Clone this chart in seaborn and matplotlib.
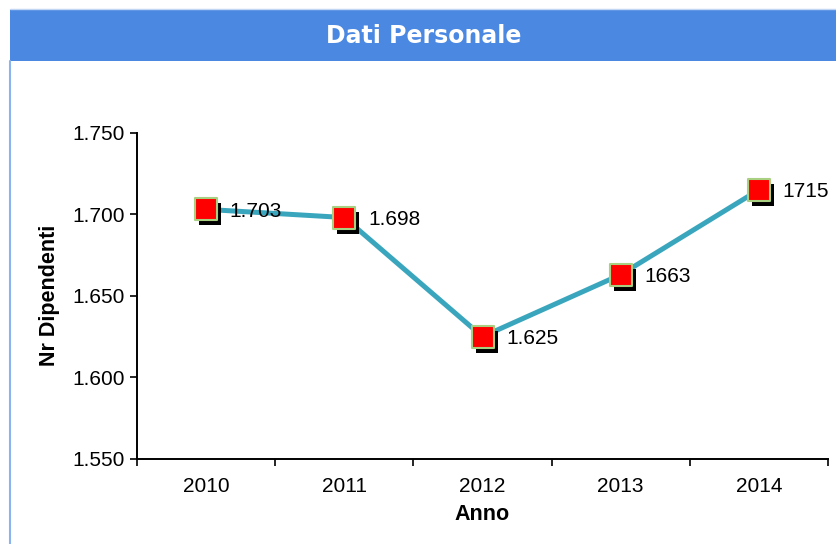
import numpy as np
import pandas as pd
import matplotlib
matplotlib.use('Agg')
import matplotlib.pyplot as plt
import matplotlib.transforms as mtransforms
from matplotlib.patches import Rectangle
from matplotlib.lines import Line2D
import seaborn as sns

# data
anni = ['2010', '2011', '2012', '2013', '2014']
dipendenti = [1703, 1698, 1625, 1663, 1715]
etichette = ['1.703', '1.698', '1.625', '1663', '1715']
y_ticks = [1550, 1600, 1650, 1700, 1750]
y_tick_labels = ['1.550', '1.600', '1.650', '1.700', '1.750']

df = pd.DataFrame({'pos': np.arange(len(anni)), 'anno': anni, 'nr': dipendenti})

sns.set_style('ticks')
plt.rcParams['font.family'] = ['Liberation Sans', 'DejaVu Sans']
plt.rcParams['text.color'] = 'black'
plt.rcParams['axes.labelcolor'] = 'black'
plt.rcParams['xtick.color'] = 'black'
plt.rcParams['ytick.color'] = 'black'

fig = plt.figure(figsize=(8.37, 5.44), dpi=100)
ax = fig.add_axes([137 / 837, 1 - 459 / 544, (828 - 137) / 837, (459 - 132.7) / 544])

# title bar + frame
fig.patches.append(Rectangle((10 / 837, 1 - 61 / 544), 1, 51 / 544, transform=fig.transFigure,
                             facecolor='#4a88e2', edgecolor='none', zorder=0))
fig.lines.append(Line2D([10 / 837, 10 / 837], [0, 1 - 61 / 544], transform=fig.transFigure,
                        color='#8ab4ee', lw=1.5))
fig.lines.append(Line2D([10 / 837, 1], [1 - 9 / 544, 1 - 9 / 544], transform=fig.transFigure,
                        color='#c0d6f4', lw=1.0))
fig.text(0.5 + 5 / 837, 1 - 36 / 544, 'Dati Personale', color='white', fontsize=17,
         fontweight='bold', family='DejaVu Sans', ha='center', va='center')

sns.lineplot(data=df, x='pos', y='nr', ax=ax, color='#3aa6bd', lw=3.6, zorder=2)

# marker shadow
shadow = mtransforms.offset_copy(ax.transData, fig=fig, x=4, y=-5, units='dots')
ax.scatter(df['pos'], df['nr'], marker='s', s=230, color='black', transform=shadow,
           zorder=3, linewidths=0)
sns.scatterplot(data=df, x='pos', y='nr', ax=ax, marker='s', s=230, color='#ff0000',
                edgecolor='#a8d080', linewidth=1.5, zorder=4)

for x, y, lab in zip(df['pos'], df['nr'], etichette):
    ax.annotate(lab, (x, y), xytext=(17, -1.5), textcoords='offset points',
                ha='left', va='center', fontsize=15, color='black', zorder=5)

ax.set_xlim(-0.5, len(anni) - 0.5)
ax.set_ylim(1550, 1750)
ax.set_yticks(y_ticks)
ax.set_yticklabels(y_tick_labels)
ax.set_xticks(np.arange(len(anni) + 1) - 0.5)
ax.set_xticklabels([])
ax.set_xticks(np.arange(len(anni)), minor=True)
ax.set_xticklabels(anni, minor=True)
ax.tick_params(axis='x', which='major', length=5, width=1.2, direction='out')
ax.tick_params(axis='x', which='minor', length=0, labelsize=15, pad=13)
ax.tick_params(axis='y', length=5, width=1.2, direction='out', labelsize=15, pad=4)

ax.set_xlabel('Anno', fontsize=15.5, fontweight='bold', labelpad=6)
ax.set_ylabel('Nr Dipendenti', fontsize=15.5, fontweight='bold', labelpad=9)

sns.despine(ax=ax)
for s in ['left', 'bottom']:
    ax.spines[s].set_color('black')
    ax.spines[s].set_linewidth(1.4)
ax.set_facecolor('white')

fig.savefig('out.png', dpi=100, facecolor='white')
